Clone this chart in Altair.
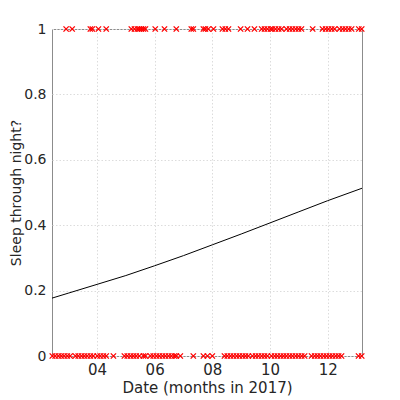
import altair as alt
import pandas as pd

# Observations: month (fractional, 2017) where baby slept through night (1) or not (0)
months_yes = [2.93, 3.14, 3.77, 3.84, 4.05, 4.32, 5.19, 5.30, 5.40, 5.47, 5.54, 5.61, 5.68,
              6.02, 6.34, 6.75, 7.27, 7.34, 7.69, 7.76, 7.86, 8.04, 8.35, 8.45, 8.56, 8.98,
              9.22, 9.46, 9.71, 9.81, 9.91, 10.02, 10.09, 10.19, 10.30, 10.40, 10.57, 10.68,
              10.78, 10.89, 10.99, 11.09, 11.48, 11.82, 11.93, 12.03, 12.14, 12.24, 12.41,
              12.52, 12.62, 12.73, 12.83, 13.08, 13.18]
months_no = [2.45, 2.55, 2.66, 2.76, 2.86, 2.97, 3.07, 3.25, 3.35, 3.46, 3.56, 3.66, 3.77,
             3.87, 4.01, 4.11, 4.22, 4.32, 4.57, 4.95, 5.05, 5.16, 5.26, 5.36, 5.47, 5.61,
             5.68, 5.85, 5.95, 6.06, 6.16, 6.27, 6.37, 6.48, 6.58, 6.68, 6.75, 6.89, 7.34,
             7.69, 7.83, 8.00, 8.42, 8.52, 8.63, 8.73, 8.84, 8.94, 9.05, 9.15, 9.25, 9.39,
             9.50, 9.60, 9.71, 9.81, 9.91, 10.05, 10.16, 10.26, 10.37, 10.47, 10.57, 10.68,
             10.78, 10.89, 10.99, 11.10, 11.20, 11.44, 11.55, 11.65, 11.75, 11.86, 11.96,
             12.07, 12.17, 12.28, 12.38, 12.48, 13.07, 13.18]

# Fitted probability curve
curve_x = [2.44, 3.0, 4.0, 5.0, 6.0, 7.0, 8.0, 9.0, 10.0, 11.0, 12.0, 13.19]
curve_y = [0.177, 0.192, 0.219, 0.246, 0.276, 0.307, 0.340, 0.373, 0.407, 0.441, 0.475, 0.513]

x_ticks = [4, 6, 8, 10, 12]
y_ticks = [0, 0.2, 0.4, 0.6, 0.8, 1]

pts = pd.DataFrame({
    "month": months_yes + months_no,
    "slept": [1] * len(months_yes) + [0] * len(months_no),
})
curve = pd.DataFrame({"month": curve_x, "p": curve_y})

FONT = "DejaVu Sans"

xscale = alt.Scale(domain=[2.44, 13.19], nice=False, zero=False)
yscale = alt.Scale(domain=[0, 1], nice=False)

common = dict(grid=True, gridDash=[1.5, 2], gridColor="#dcdcdc",
              domain=False, ticks=False,
              labelColor="#262626", titleColor="#262626", titleFontWeight="normal",
              labelFont=FONT, titleFont=FONT)

xaxis = alt.Axis(values=x_ticks, format="02d", title="Date (months in 2017)",
                 labelFontSize=15, titleFontSize=15,
                 labelPadding=6, titlePadding=3, **common)
yaxis = alt.Axis(values=y_ticks, format="~g", title="Sleep through night?",
                 labelFontSize=14, titleFontSize=14,
                 labelPadding=6, titlePadding=0, **common)

marks = alt.Chart(pts).mark_point(
    shape="M-1,-1L1,1M-1,1L1,-1", filled=False, color="#ff0000", strokeWidth=1.3,
    size=28, opacity=1, clip=False,
).encode(
    x=alt.X("month:Q", scale=xscale, axis=xaxis),
    y=alt.Y("slept:Q", scale=yscale, axis=yaxis),
)

line = alt.Chart(curve).mark_line(color="black", strokeWidth=1).encode(
    x=alt.X("month:Q", scale=xscale),
    y=alt.Y("p:Q", scale=yscale),
)

chart = alt.layer(line, marks).properties(
    width=310, height=327,
    padding={"left": 44, "top": 21, "right": 30, "bottom": 44},
    autosize="none",
    background="white",
).configure_view(stroke="#8c8c8c", strokeWidth=1)

chart.save("out.html", embed_options={"renderer": "svg", "actions": False})
